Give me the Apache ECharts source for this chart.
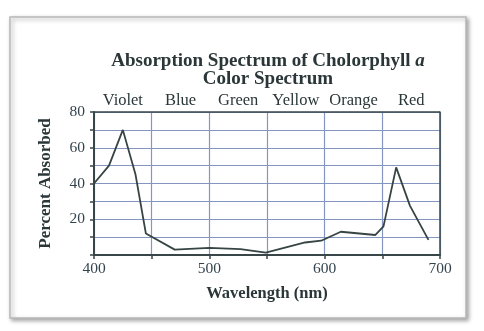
<!DOCTYPE html>
<html><head><meta charset="utf-8">
<script src="https://cdn.jsdelivr.net/npm/echarts@6/dist/echarts.min.js"></script>
<style>html,body{margin:0;padding:0;background:#fff}#c{width:484px;height:331px}</style>
</head><body><div id="c"></div>
<script>
const wavelengths = [400, 413, 425, 436, 445, 470, 500, 527, 549, 583, 597, 614, 644, 651, 662, 674, 690];
const absorbed    = [40,  50,  70,  45,  12,  3,   4,   3.3, 1.3, 7,   8,   13,  11.2, 16, 49,  27.5, 8.5];
const colorBands = ['Violet', 'Blue', 'Green', 'Yellow', 'Orange', 'Red'];
const titleLines = ['Absorption Spectrum of Cholorphyll {i|a}', 'Color Spectrum'];

const chart = echarts.init(document.getElementById('c'), null, {renderer: 'canvas'});
const serif = '"Liberation Serif", "DejaVu Serif", serif';
const txt = '#2a3638';
const axisCol = '#38464a';
const frame = {
  type: 'rect', z: -10,
  shape: {x: 10, y: 17, width: 456, height: 301},
  style: {fill: '#fff', stroke: '#b8b8b8', lineWidth: 1.5,
    shadowBlur: 4, shadowColor: 'rgba(0,0,0,0.35)', shadowOffsetX: 2, shadowOffsetY: 2}
};
chart.setOption({
  animation: false,
  backgroundColor: '#fff',
  title: {
    text: titleLines.join('\n'),
    left: 263, top: 47, textAlign: 'center',
    textStyle: {fontFamily: serif, fontWeight: 'bold', fontSize: 19, color: txt, lineHeight: 18,
      rich: {i: {fontFamily: serif, fontStyle: 'italic', fontWeight: 'bold', fontSize: 19, color: txt, lineHeight: 18}}}
  },
  grid: {left: 94, right: 44, top: 112, bottom: 76, containLabel: false},
  xAxis: [{
    type: 'value', min: 400, max: 700, interval: 50, position: 'bottom',
    name: 'Wavelength (nm)', nameLocation: 'middle', nameGap: 30,
    nameTextStyle: {fontFamily: serif, fontWeight: 'bold', fontSize: 16.5, color: txt},
    axisLine: {show: true, lineStyle: {color: axisCol, width: 2}},
    axisTick: {show: true, inside: false, length: 4, lineStyle: {color: axisCol, width: 1.5}},
    axisLabel: {fontFamily: serif, fontSize: 15.5, color: '#34444f', margin: 6,
      formatter: v => (v % 100 === 0 ? String(v) : '')},
    splitLine: {show: true, lineStyle: {color: '#8496c0', width: 1.2}}
  }, {
    type: 'category', data: colorBands, position: 'top', boundaryGap: true,
    axisLine: {show: false}, axisTick: {show: false},
    axisLabel: {fontFamily: serif, fontSize: 16.5, color: txt, margin: 3, interval: 0},
    splitLine: {show: false}
  }],
  yAxis: [{
    type: 'value', min: 0, max: 80, interval: 10,
    name: 'Percent Absorbed', nameLocation: 'middle', nameGap: 40, nameRotate: 90,
    nameTextStyle: {fontFamily: serif, fontWeight: 'bold', fontSize: 17, color: txt},
    axisLine: {show: true, lineStyle: {color: axisCol, width: 2}},
    axisTick: {show: true, length: 4, lineStyle: {color: axisCol, width: 1.5}},
    axisLabel: {fontFamily: serif, fontSize: 15.5, color: '#34444f', margin: 9,
      formatter: v => (v > 0 && v % 20 === 0 ? String(v) : '')},
    splitLine: {show: true, lineStyle: {color: '#8496c0', width: 1.2}}
  }, {
    type: 'value', min: 0, max: 80, interval: 10, position: 'right',
    axisLine: {show: true, lineStyle: {color: axisCol, width: 1.5}},
    axisTick: {show: false}, axisLabel: {show: false}, splitLine: {show: false}
  }],
  series: [{
    type: 'line', xAxisIndex: 0, yAxisIndex: 0,
    data: wavelengths.map((w, i) => [w, absorbed[i]]),
    showSymbol: false, smooth: false,
    lineStyle: {color: '#364444', width: 1.8}
  }]
});
chart.setOption({graphic: [frame, {
  type: 'line', z: 5,
  shape: {x1: chart.convertToPixel({xAxisIndex: 0}, 400), y1: chart.convertToPixel({yAxisIndex: 0}, 80),
          x2: chart.convertToPixel({xAxisIndex: 0}, 700), y2: chart.convertToPixel({yAxisIndex: 0}, 80)},
  style: {stroke: axisCol, lineWidth: 1.5}
}]});
</script></body></html>
